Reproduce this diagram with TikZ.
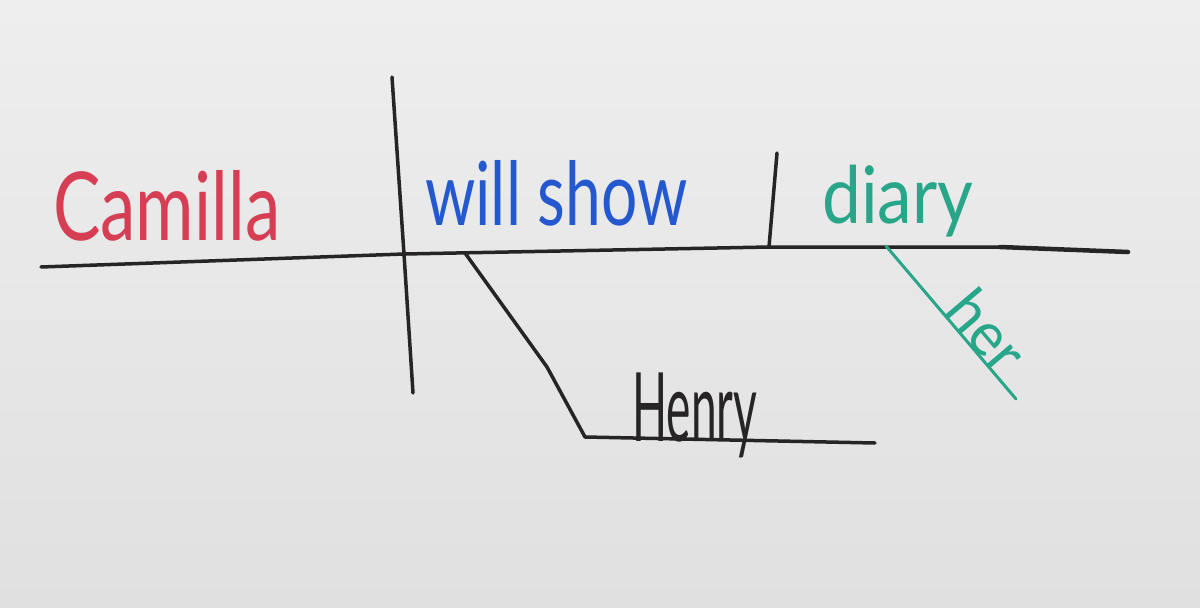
\documentclass[tikz,border=0pt]{standalone}
\usepackage{fontspec}
\setmainfont{Lato}
\usepackage{graphicx}
\usetikzlibrary{positioning}
\definecolor{board}{RGB}{224,224,225}
\definecolor{boardtop}{RGB}{238,238,239}
\definecolor{ink}{RGB}{38,36,36}
\definecolor{camred}{RGB}{214,62,84}
\definecolor{showblue}{RGB}{36,88,206}
\definecolor{herteal}{RGB}{40,166,138}
\tikzset{
pen/.style={draw=ink, line width=3.5pt, line cap=round, line join=round}, % black marker strokes
tealpen/.style={pen, draw=herteal, line width=3pt}, % green marker strokes
word/.style={inner sep=0pt, anchor=north west}, % handwritten words
}
\begin{document}
\begin{tikzpicture}[x=1pt,y=-1pt]
            \fill[top color=boardtop, bottom color=board] (0,0) rectangle (1200,608);
            \useasboundingbox (0,0) rectangle (1200,608);
            % junctions of the diagram
            \coordinate (baseL) at (41,267);
            \coordinate (subjTop) at (392,77);
            \coordinate (subjCut) at (404,254);
            \coordinate (subjBot) at (413,393);
            \coordinate (objTop) at (777,153);
            \coordinate (objCut) at (769,247);
            \coordinate (baseMid) at (1000,247);
            \coordinate (baseR) at (1128,252);
            \coordinate (ioTop) at (465,253);
            \coordinate (ioKnee) at (547,367);
            \coordinate (ioCorner) at (585,437);
            \coordinate (ioEnd) at (875,443);
            \coordinate (modTop) at (886,246);
            \coordinate (modBot) at (1016,399);
            % words
            \node[word, text=camred] (camilla) at (53,170) {\resizebox{227pt}{70pt}{Camilla}};
            \node[word, text=showblue] (willshow) at (425,160) {\resizebox{262pt}{65pt}{will show}};
            \node[word, text=herteal] (diary) at (822,165) {\resizebox*{151pt}{72pt}{diary}};
            \node[word, text=ink] (henry) at (632,373) {\resizebox*{125pt}{85pt}{Henry}};
            % lines
            \draw[pen] (baseL) -- (subjCut) -- (objCut) -- (baseMid);
            \draw[pen, line width=4.5pt] (baseMid) -- (baseR);
            \draw[pen] (subjTop) -- (subjCut) -- (subjBot);
            \draw[pen] (objTop) -- (objCut);
            \draw[pen] (ioTop) -- (ioKnee) -- (ioCorner) -- (ioEnd);
            \draw[tealpen] (modTop) -- node[word, pos=0.43, sloped, anchor=base west, text=herteal] (her) {\resizebox{85pt}{45pt}{her}} (modBot);
\end{tikzpicture}
\end{document}
